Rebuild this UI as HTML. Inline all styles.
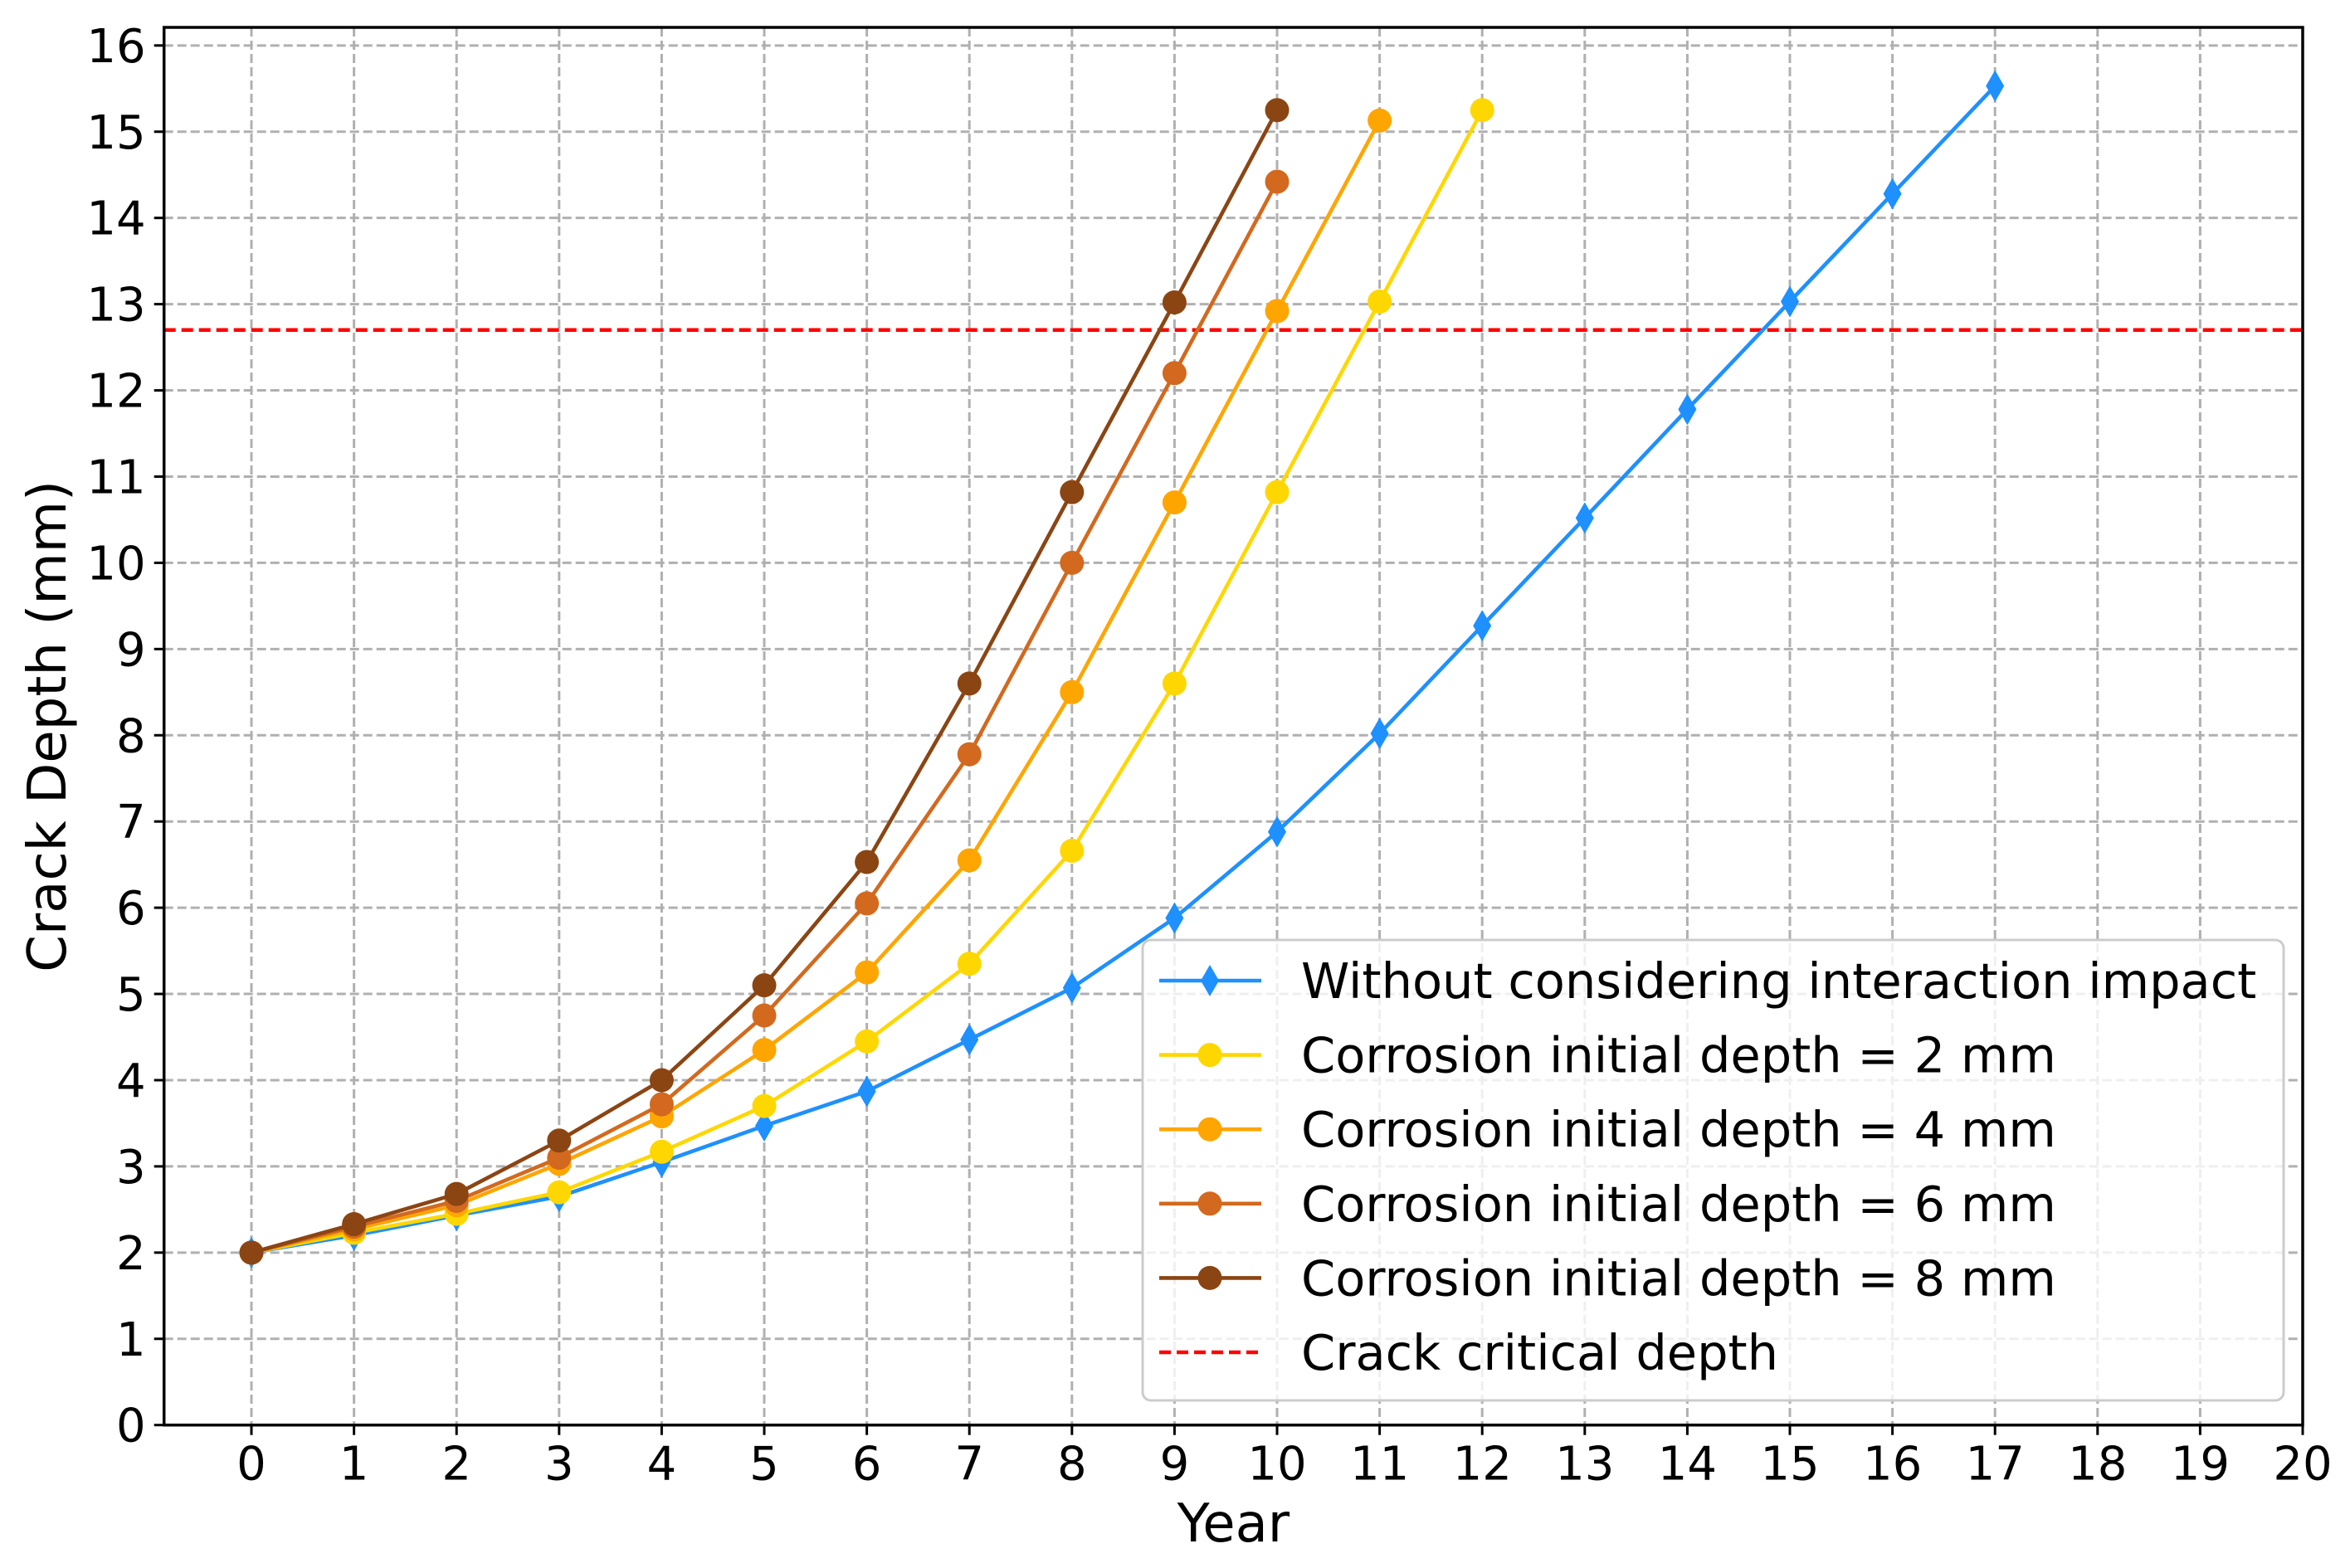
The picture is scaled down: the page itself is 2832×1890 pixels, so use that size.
<!DOCTYPE html>
<html><head><meta charset="utf-8"><style>
html,body{margin:0;padding:0;background:#fff}
svg{display:block;font-family:"DejaVu Sans","Liberation Sans",sans-serif}
</style></head><body>
<svg id="chart" width="2832" height="1890" xmlns="http://www.w3.org/2000/svg">
<rect width="2832" height="1890" fill="#fff"/>
<g id="grid"></g>
<g id="series"></g>
<g id="axes"></g>
<g id="legend"></g>
</svg>
<script>
const years = [0,1,2,3,4,5,6,7,8,9,10,11,12,13,14,15,16,17];
const blueVals = [2.0,2.2,2.43,2.65,3.05,3.47,3.87,4.47,5.07,5.88,6.88,8.02,9.27,10.52,11.78,13.03,14.28,15.53];
const c2Vals = [2.0,2.23,2.45,2.7,3.17,3.7,4.45,5.35,6.66,8.6,10.82,13.03,15.25];
const c4Vals = [2.0,2.27,2.55,3.03,3.58,4.35,5.25,6.55,8.5,10.7,12.92,15.13];
const c6Vals = [2.0,2.3,2.6,3.1,3.72,4.75,6.05,7.78,10.0,12.2,14.42];
const c8Vals = [2.0,2.33,2.68,3.3,4.0,5.1,6.53,8.6,10.82,13.02,15.25];
const criticalDepth = 12.7;
const xTicks = [0,1,2,3,4,5,6,7,8,9,10,11,12,13,14,15,16,17,18,19,20];
const yTicks = [0,1,2,3,4,5,6,7,8,9,10,11,12,13,14,15,16];
const legendLabels = ["Without considering interaction impact","Corrosion initial depth = 2 mm","Corrosion initial depth = 4 mm","Corrosion initial depth = 6 mm","Corrosion initial depth = 8 mm","Crack critical depth"];

const NS="http://www.w3.org/2000/svg";
const L=197.7,R=2775,T=33,B=1717.7,XMIN=-0.852,XMAX=20,YMIN=0,YMAX=16.21;
const LW=4.6;
const sx=v=>L+(v-XMIN)/(XMAX-XMIN)*(R-L);
const sy=v=>B-(v-YMIN)/(YMAX-YMIN)*(B-T);
function mk(tag,attrs,parent){const e=document.createElementNS(NS,tag);for(const k in attrs)e.setAttribute(k,attrs[k]);parent.appendChild(e);return e;}
const grid=document.getElementById('grid'),series=document.getElementById('series'),axes=document.getElementById('axes'),legend=document.getElementById('legend');

xTicks.forEach(t=>{const x=sx(t);
 const g=mk('line',{x1:x,x2:x,y1:T,y2:B,stroke:'#b0b0b0','stroke-width':3,'stroke-dasharray':'11,5'},grid);
 
 const tk=mk('line',{x1:x,x2:x,y1:B,y2:B+12,stroke:'#000','stroke-width':3},axes);
 
 const tx=mk('text',{x:x,y:B+66,'font-size':56,'text-anchor':'middle',fill:'#000'},axes);tx.textContent=t;
 
});
yTicks.forEach(t=>{const y=sy(t);
 const g=mk('line',{x1:L,x2:R,y1:y,y2:y,stroke:'#b0b0b0','stroke-width':3,'stroke-dasharray':'11,5'},grid);
 
 const tk=mk('line',{x1:L-12,x2:L,y1:y,y2:y,stroke:'#000','stroke-width':3},axes);
 
 const tx=mk('text',{x:L-22,y:y+20,'font-size':56,'text-anchor':'end',fill:'#000'},axes);tx.textContent=t;
 
});
const frame=mk('rect',{x:L,y:T,width:R-L,height:B-T,fill:'none',stroke:'#000','stroke-width':3.5},axes);

const xl=mk('text',{x:(L+R)/2,y:1858,'font-size':64,'text-anchor':'middle',fill:'#000'},axes);xl.textContent='Year';

const yl=mk('text',{x:0,y:0,'font-size':64,'text-anchor':'middle',fill:'#000',transform:`translate(79,${(T+B)/2}) rotate(-90)`},axes);yl.textContent='Crack Depth (mm)';


const crit=mk('line',{x1:L,x2:R,y1:sy(criticalDepth),y2:sy(criticalDepth),stroke:'#ff0000','stroke-width':4.5,'stroke-dasharray':'14,7'},series);


function diamond(x,y,c,p){const d=mk('polygon',{points:`${x},${y-19} ${x+11},${y} ${x},${y+19} ${x-11},${y}`,fill:c},p);return d;}
function drawSeries(vals,color,name,isDiamond){
 const g=mk('g',{},series);
 const pts=vals.map((v,i)=>sx(years[i])+','+sy(v)).join(' ');
 const pl=mk('polyline',{points:pts,fill:'none',stroke:color,'stroke-width':LW,'stroke-linejoin':'round'},g);
 
 vals.forEach((v,i)=>{let m;
  if(isDiamond)m=diamond(sx(years[i]),sy(v),color,g);
  else m=mk('circle',{cx:sx(years[i]),cy:sy(v),r:14.5,fill:color},g);
  
 });
}
drawSeries(blueVals,'#1e90ff','series-no-interaction',true);
drawSeries(c2Vals,'#ffd700','series-2mm',false);
drawSeries(c4Vals,'#ffa500','series-4mm',false);
drawSeries(c6Vals,'#d2691e','series-6mm',false);
drawSeries(c8Vals,'#8b4513','series-8mm',false);

const box=mk('rect',{x:1377,y:1133,width:1375,height:555,rx:10,fill:'#fff','fill-opacity':0.8,stroke:'#cccccc','stroke-width':3},legend);

const colors=['#1e90ff','#ffd700','#ffa500','#d2691e','#8b4513','#ff0000'];
legendLabels.forEach((lab,i)=>{const y=1182+i*89.6;
 const g=mk('g',{},legend);
 if(i<5){mk('line',{x1:1397,x2:1520,y1:y,y2:y,stroke:colors[i],'stroke-width':LW},g);
  if(i==0)diamond(1458,y,colors[i],g);else mk('circle',{cx:1458,cy:y,r:14.5,fill:colors[i]},g);}
 else mk('line',{x1:1397,x2:1520,y1:y,y2:y,stroke:colors[i],'stroke-width':4.5,'stroke-dasharray':'14,7'},g);
 const t=mk('text',{x:1568,y:y+21,'font-size':59,fill:'#000'},g);t.textContent=lab;
});
</script>
</body></html>
